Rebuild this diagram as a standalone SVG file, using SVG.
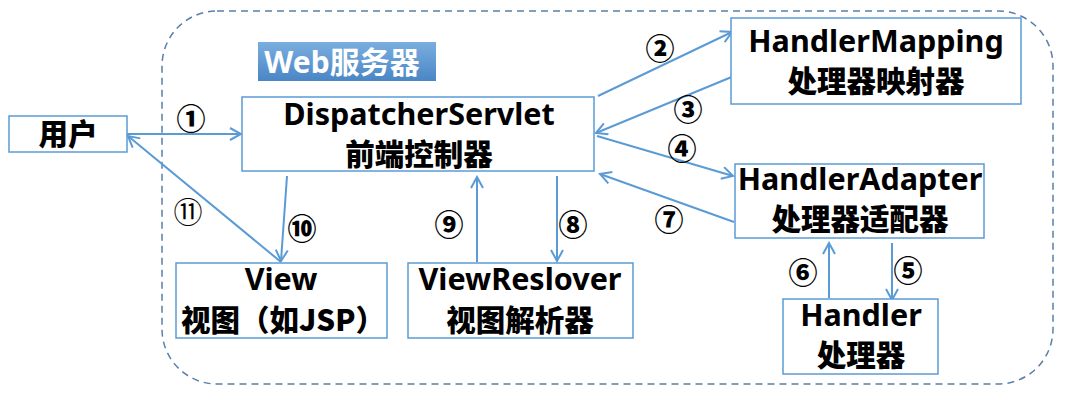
<svg xmlns="http://www.w3.org/2000/svg" width="1065" height="400" viewBox="0 0 1065 400">
<style>
.box{fill:#fff;stroke:#5b9bd5;stroke-width:1.5}
.t{font-family:"Noto Sans","Noto Sans CJK SC",sans-serif;font-weight:bold;font-size:30.5px;fill:#000;text-anchor:middle}
.c{font-family:"Noto Sans CJK SC","Noto Sans",sans-serif;font-weight:900;font-size:29.5px;fill:#000;text-anchor:middle}
.n{font-family:"Noto Sans CJK SC","DejaVu Sans",sans-serif;font-weight:900;font-size:29px;fill:#000;text-anchor:middle;dominant-baseline:central}
.n2{font-family:"Noto Sans CJK SC","DejaVu Serif",serif;font-weight:normal;font-size:29px;fill:#000;text-anchor:middle;dominant-baseline:central}
.ln{stroke:#5b9bd5;stroke-width:2;fill:none;marker-end:url(#ah)}
</style>
<defs>
<marker id="ah" markerUnits="userSpaceOnUse" viewBox="0 0 14 14" refX="12" refY="7" markerWidth="14" markerHeight="14" orient="auto">
<path d="M1,1 L12,7 L1,13" fill="none" stroke="#5b9bd5" stroke-width="2"/>
</marker>
<linearGradient id="wg" x1="0" y1="0" x2="0" y2="1">
<stop offset="0" stop-color="#7aaee0"/>
<stop offset="1" stop-color="#4a86c5"/>
</linearGradient>
</defs>
<rect width="1065" height="400" fill="#fff"/>
<g id="container">
<rect x="162" y="11" width="891" height="373" rx="55" ry="55" fill="none" stroke="#5a7fa8" stroke-width="1.5" stroke-dasharray="7 5"/>
<rect x="258" y="42" width="178" height="39" fill="url(#wg)"/>
<text x="342" y="73" class="c" style="fill:#fff;font-family:'Noto Sans','Noto Sans CJK SC',sans-serif;font-weight:bold;font-size:30px">Web服务器</text>
</g>
<g id="connectors">
<line class="ln" x1="127" y1="134" x2="241" y2="134"/>
<line class="ln" x1="281" y1="262" x2="128" y2="136"/>
<line class="ln" x1="287" y1="176" x2="281" y2="261"/>
<line class="ln" x1="598" y1="96" x2="732" y2="32"/>
<line class="ln" x1="734" y1="76" x2="596" y2="133"/>
<line class="ln" x1="597" y1="136" x2="733" y2="176"/>
<line class="ln" x1="734" y1="222" x2="600" y2="174"/>
<line class="ln" x1="477" y1="262" x2="477" y2="177"/>
<line class="ln" x1="557" y1="176" x2="557" y2="261"/>
<line class="ln" x1="829" y1="298" x2="829" y2="243"/>
<line class="ln" x1="892" y1="243" x2="892" y2="300"/>
<text class="n" x="191" y="117">①</text>
<text class="n" x="660" y="47">②</text>
<text class="n" x="688" y="108">③</text>
<text class="n" x="682" y="147">④</text>
<text class="n" x="908" y="269">⑤</text>
<text class="n" x="803" y="271">⑥</text>
<text class="n" x="669" y="218">⑦</text>
<text class="n" x="573" y="223">⑧</text>
<text class="n" x="449" y="223">⑨</text>
<text class="n" x="302" y="227">⑩</text>
<text class="n2" x="188" y="210">⑪</text>
</g>
<g id="user">
<rect class="box" x="9" y="116" width="118" height="36"/>
<text class="c" x="68" y="145">用户</text>
</g>
<g id="dispatcher">
<rect class="box" x="242" y="97" width="352" height="74"/>
<text class="t" x="419" y="125">DispatcherServlet</text>
<text class="c" x="419" y="165">前端控制器</text>
</g>
<g id="view">
<rect class="box" x="176" y="263" width="211" height="75"/>
<text class="t" x="281" y="290">View</text>
<text class="c" x="283" y="331">视图（如JSP）</text>
</g>
<g id="viewresolver">
<rect class="box" x="408" y="263" width="225" height="75"/>
<text class="t" x="520" y="290">ViewReslover</text>
<text class="c" x="520" y="331">视图解析器</text>
</g>
<g id="handlermapping">
<rect class="box" x="731" y="18" width="290" height="86"/>
<text class="t" x="876" y="52">HandlerMapping</text>
<text class="c" x="876" y="92">处理器映射器</text>
</g>
<g id="handleradapter">
<rect class="box" x="735" y="164" width="249" height="74"/>
<text class="t" x="860" y="190">HandlerAdapter</text>
<text class="c" x="860" y="230">处理器适配器</text>
</g>
<g id="handler">
<rect class="box" x="783" y="299" width="155" height="75"/>
<text class="t" x="861" y="326">Handler</text>
<text class="c" x="861" y="366">处理器</text>
</g>
</svg>
